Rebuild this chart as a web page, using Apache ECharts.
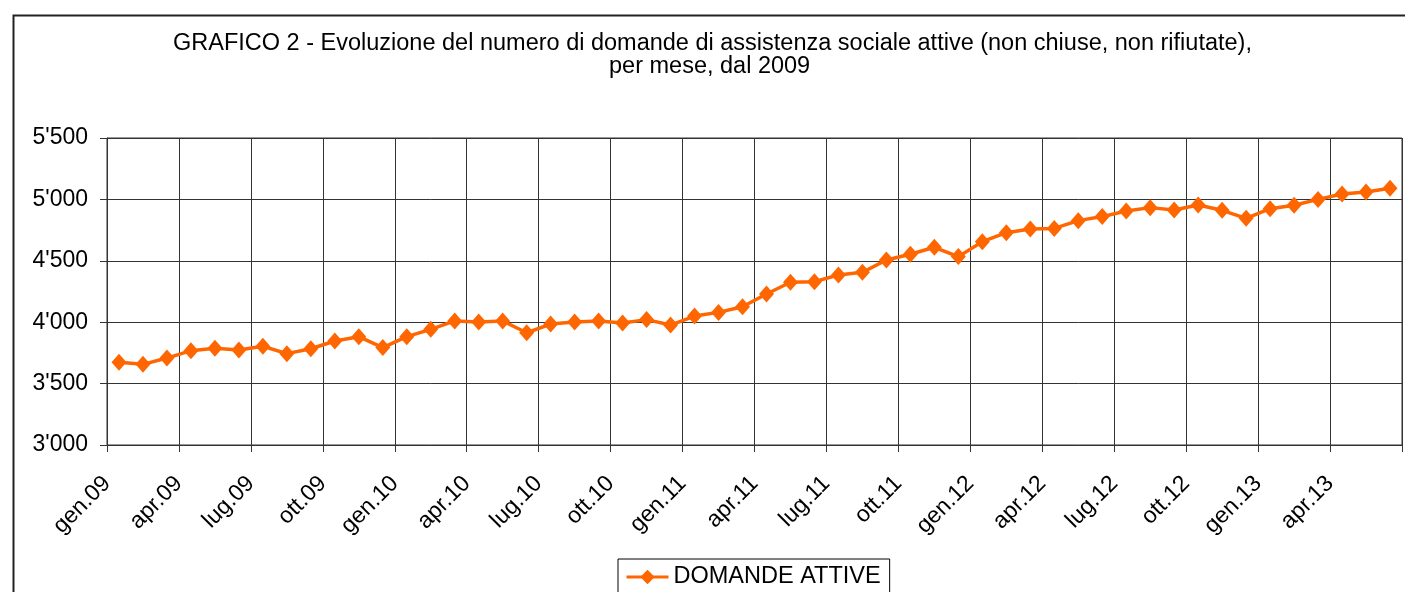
<!DOCTYPE html>
<html>
<head>
<meta charset="utf-8">
<script src="https://cdn.jsdelivr.net/npm/echarts@6/dist/echarts.min.js"></script>
<style>
html,body{margin:0;padding:0;background:#fff;}
#chart{width:1405px;height:592px;}
</style>
</head>
<body>
<div id="chart"></div>
<script>
var titleLine1 = "GRAFICO 2 - Evoluzione del numero di domande di assistenza sociale attive (non chiuse, non rifiutate),";
var titleLine2 = "per mese, dal 2009";
var seriesName = "DOMANDE ATTIVE";
var categories = [
  "gen.09","feb.09","mar.09","apr.09","mag.09","giu.09","lug.09","ago.09","set.09","ott.09","nov.09","dic.09",
  "gen.10","feb.10","mar.10","apr.10","mag.10","giu.10","lug.10","ago.10","set.10","ott.10","nov.10","dic.10",
  "gen.11","feb.11","mar.11","apr.11","mag.11","giu.11","lug.11","ago.11","set.11","ott.11","nov.11","dic.11",
  "gen.12","feb.12","mar.12","apr.12","mag.12","giu.12","lug.12","ago.12","set.12","ott.12","nov.12","dic.12",
  "gen.13","feb.13","mar.13","apr.13","mag.13","giu.13"
];
var domandeAttive = [
  3673,3657,3708,3768,3787,3774,3804,3744,3784,3847,3882,3793,
  3882,3942,4010,4002,4010,3914,3985,4002,4010,3993,4021,3977,
  4050,4080,4126,4230,4325,4330,4384,4406,4506,4553,4610,4534,
  4656,4729,4759,4764,4827,4860,4905,4933,4914,4954,4911,4846,
  4924,4952,5000,5044,5060,5090
];
var yMin = 3000, yMax = 5500, yStep = 500;

var chart = echarts.init(document.getElementById('chart'));
var font = 'Liberation Sans, Arial, sans-serif';
var titleStyle = { fontFamily: font, fontSize: 23.5, fontWeight: 'normal', color: '#000' };
chart.setOption({
  animation: false,
  backgroundColor: '#fff',
  graphic: [{
    type: 'rect', left: 11, top: 13, silent: true,
    shape: { width: 1420, height: 600 },
    style: { fill: 'none', stroke: '#222', lineWidth: 2 }
  }],
  title: [
    { text: titleLine1, left: 173, top: 32, padding: 0, textStyle: titleStyle },
    { text: titleLine2, left: 609, top: 55, padding: 0, textStyle: titleStyle }
  ],
  legend: {
    left: 618, top: 559,
    padding: [6, 9, 8, 7],
    borderColor: '#000', borderWidth: 1,
    itemWidth: 42, itemHeight: 18,
    lineStyle: { width: 3 },
    textStyle: { fontFamily: font, fontSize: 23.5, color: '#000' },
    data: [seriesName]
  },
  grid: {
    left: 107, top: 138, width: 1295, height: 307,
    show: true, borderColor: '#333', borderWidth: 1, backgroundColor: 'transparent'
  },
  xAxis: {
    type: 'category',
    data: categories,
    boundaryGap: true,
    axisLine: { show: true, lineStyle: { color: '#333', width: 1 } },
    axisTick: { show: true, interval: 2, length: 7, lineStyle: { color: '#333' } },
    splitLine: { show: true, interval: 2, lineStyle: { color: '#333', width: 1 } },
    axisLabel: {
      interval: 2, rotate: 45, margin: 23,
      padding: [0, 17, 0, 0],
      fontFamily: font, fontSize: 23, color: '#000'
    }
  },
  yAxis: {
    type: 'value', min: yMin, max: yMax, interval: yStep,
    axisLine: { show: true, lineStyle: { color: '#333', width: 1 } },
    axisTick: { show: true, length: 7, lineStyle: { color: '#333' } },
    splitLine: { show: true, lineStyle: { color: '#333', width: 1 } },
    axisLabel: {
      margin: 19, fontFamily: font, fontSize: 23, color: '#000',
      formatter: function (v) {
        var s = String(v);
        return s.replace(/\B(?=(\d{3})+(?!\d))/g, "'");
      }
    }
  },
  series: [{
    name: seriesName,
    type: 'line',
    data: domandeAttive,
    symbol: 'diamond',
    symbolSize: [15, 17],
    showAllSymbol: true,
    color: '#FF6600',
    lineStyle: { color: '#FF6600', width: 3.5 },
    itemStyle: { color: '#FF6600' }
  }]
});
</script>
</body>
</html>
